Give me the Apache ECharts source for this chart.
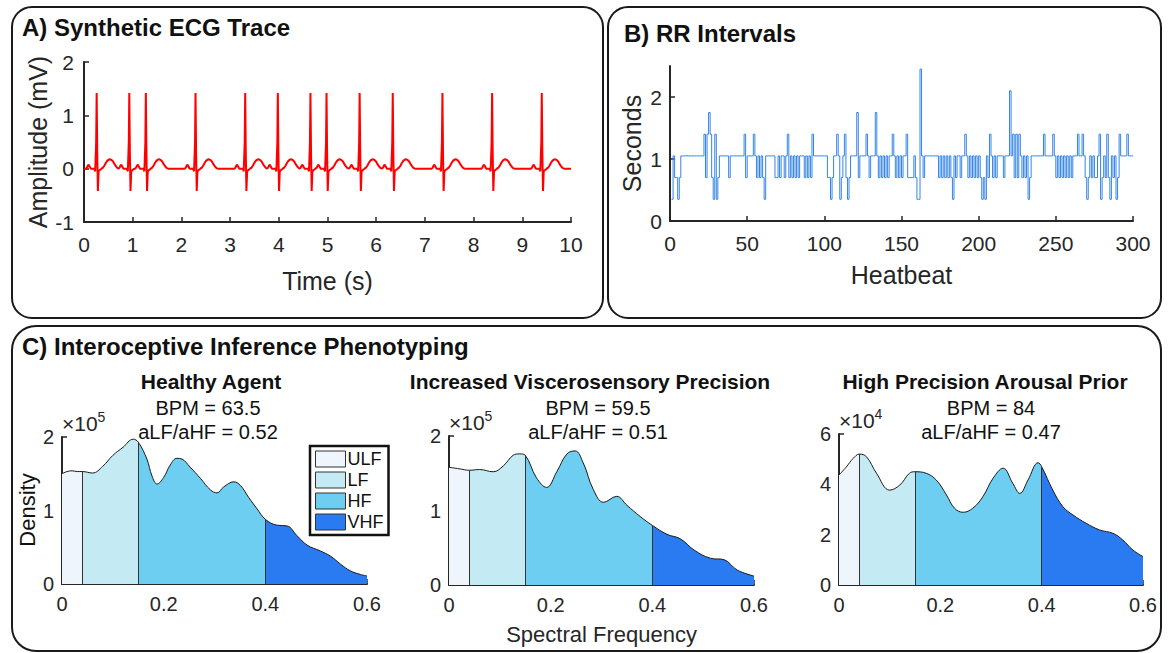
<!DOCTYPE html>
<html>
<head>
<meta charset="utf-8">
<script src="https://cdn.jsdelivr.net/npm/echarts@6/dist/echarts.min.js"></script>
<style>html,body{margin:0;padding:0;background:#fff}#c{width:1170px;height:653px}</style>
</head>
<body>
<div id="c"></div>
<script>
// ---------- Panel A: synthetic ECG ----------
const beatTimes = [0.26, 0.93, 1.27, 2.29, 3.31, 3.98, 4.65, 4.98, 5.66, 6.34, 7.36, 8.38, 9.40];
// one beat template (offset from R peak in s, amplitude in mV)
const beatOffsets = [-0.22, -0.20, -0.18, -0.16, -0.14, -0.12, -0.05, -0.03, -0.01, 0, 0.012, 0.025, 0.04, 0.06, 0.10, 0.13, 0.16, 0.19, 0.22, 0.25, 0.28, 0.31, 0.34, 0.37, 0.40, 0.43, 0.46];
const beatAmps    = [0, 0.02, 0.06, 0.07, 0.03, 0, 0, -0.05, 0.5, 1.42, 0.3, -0.42, -0.05, -0.03, 0, 0.02, 0.06, 0.11, 0.15, 0.17, 0.175, 0.16, 0.13, 0.08, 0.04, 0.01, 0];
const ecgTicksX = [0, 1, 2, 3, 4, 5, 6, 7, 8, 9, 10];
const ecgTicksY = [-1, 0, 1, 2];

// ---------- Panel B: RR intervals (s) ----------
const rrIntervals = [
 0.35,1.05,0.7,0.7,0.35,0.7,1.05,1.05,1.05,1.05,
 1.05,1.05,1.05,1.05,1.05,1.05,1.05,1.05,1.05,1.05,
 1.05,1.4,0.7,1.4,1.75,1.4,0.7,0.35,1.4,0.35,
 0.7,1.05,1.05,1.05,1.05,1.05,1.05,0.7,1.05,1.05,
 1.05,1.05,1.05,1.05,1.05,1.05,1.05,1.4,0.7,1.05,
 1.05,1.05,1.05,1.4,1.05,0.7,1.05,0.7,1.05,0.7,
 0.35,1.05,1.05,1.05,1.05,1.05,1.05,0.7,0.7,1.05,
 0.7,1.05,1.05,0.7,1.05,1.4,0.7,1.05,0.7,1.05,
 0.7,1.05,0.7,1.05,1.05,1.05,0.7,1.05,0.7,1.05,
 0.7,1.4,1.05,1.05,1.05,1.05,1.05,1.05,1.05,1.05,
 1.05,0.7,0.7,0.35,0.7,1.05,1.05,1.4,1.05,0.35,
 0.7,1.05,1.4,0.7,0.35,0.7,1.05,1.05,1.05,1.05,
 1.75,0.7,1.05,1.05,1.05,1.05,1.4,1.05,0.7,1.05,
 1.05,1.05,1.75,1.05,0.7,1.05,0.7,1.05,0.7,1.05,
 0.7,1.05,1.05,1.4,1.05,0.7,1.05,0.7,1.05,0.7,
 1.05,1.05,1.4,0.7,0.7,0.7,0.7,1.05,0.7,0.35,
 0.35,2.45,1.05,0.7,1.05,1.05,1.05,1.05,1.05,1.05,
 1.05,1.05,1.05,0.7,1.05,0.7,1.05,0.7,1.05,0.7,
 1.05,0.7,0.35,1.05,0.7,1.05,1.05,0.7,1.05,1.05,
 1.4,1.05,0.7,1.05,0.7,1.05,0.7,1.05,0.7,1.05,
 0.7,0.35,0.7,0.35,1.05,0.7,1.4,1.05,0.7,1.05,
 0.7,1.05,1.05,1.05,1.05,0.7,1.05,1.05,1.05,2.1,
 1.05,1.4,0.7,1.4,0.7,1.4,1.05,0.7,1.05,0.7,
 1.05,0.35,0.7,1.05,1.05,1.05,1.05,1.05,1.05,1.05,
 1.05,1.4,1.05,1.05,1.05,1.05,1.05,1.4,1.05,0.7,
 1.05,0.7,1.05,0.7,1.05,0.7,1.05,0.7,1.05,0.7,
 1.05,1.05,1.05,1.4,1.05,1.05,1.4,1.05,0.7,0.35,
 0.7,1.05,0.7,1.05,0.7,0.7,1.05,1.4,0.35,0.7,
 1.05,0.7,1.4,0.7,0.35,1.05,0.7,1.05,0.35,0.7,
 1.4,1.05,1.05,1.05,1.05,1.4,1.05,1.05,1.05,1.05
];
const rrTicksX = [0, 50, 100, 150, 200, 250, 300];
const rrTicksY = [0, 1, 2];

// ---------- Panel C: spectral densities ----------
const bandNames  = ['ULF', 'LF', 'HF', 'VHF'];
const bandEdges  = [0, 0.04, 0.15, 0.40, 0.60];
const bandColors = ['#eef5fd', '#c4ebf4', '#6dcef1', '#2a7bf2'];
const freqTicks = [0, 0.2, 0.4, 0.6];

// Healthy Agent (x 10^5)
const healthyFreq = [0,0.01,0.02,0.03,0.04,0.06,0.08,0.10,0.12,0.14,0.15,0.167,0.177,0.187,0.20,0.213,0.226,0.236,0.252,0.272,0.292,0.305,0.318,0.338,0.351,0.367,0.384,0.40,0.423,0.443,0.462,0.482,0.508,0.528,0.548,0.567,0.587,0.60];
const healthyDens = [1.50,1.53,1.54,1.53,1.53,1.51,1.60,1.75,1.86,1.97,1.93,1.70,1.47,1.36,1.45,1.62,1.71,1.70,1.59,1.44,1.28,1.24,1.32,1.39,1.34,1.18,1.02,0.88,0.80,0.79,0.66,0.53,0.45,0.38,0.27,0.18,0.13,0.11];
// Increased Viscerosensory Precision (x 10^5)
const viscFreq = [0,0.02,0.04,0.06,0.087,0.107,0.126,0.139,0.15,0.172,0.192,0.212,0.232,0.248,0.264,0.284,0.304,0.33,0.35,0.376,0.40,0.429,0.455,0.482,0.514,0.541,0.567,0.60];
const viscDens = [1.58,1.56,1.54,1.55,1.52,1.60,1.74,1.76,1.74,1.44,1.31,1.52,1.76,1.80,1.64,1.28,1.11,1.19,1.07,0.92,0.80,0.68,0.62,0.47,0.36,0.34,0.20,0.12];
// High Precision Arousal Prior (x 10^4)
const arousFreq = [0,0.014,0.028,0.04,0.054,0.074,0.10,0.12,0.139,0.15,0.172,0.192,0.212,0.228,0.245,0.264,0.284,0.304,0.324,0.343,0.357,0.373,0.393,0.40,0.422,0.442,0.462,0.488,0.514,0.541,0.56,0.58,0.60];
const arousDens = [4.37,4.68,5.03,5.20,5.10,4.44,3.77,3.97,4.44,4.50,4.44,4.17,3.58,3.05,2.89,3.05,3.51,4.24,4.64,4.04,3.64,4.17,4.86,4.70,3.77,3.11,2.78,2.45,2.19,2.05,1.79,1.39,1.13];

const panelTitles = ['Healthy Agent', 'Increased Viscerosensory Precision', 'High Precision Arousal Prior'];
const panelBPM    = ['63.5', '59.5', '84'];
const panelRatio  = ['0.52', '0.51', '0.47'];
const panelExp    = ['5', '5', '4'];
const densTicks   = [[0, 1, 2], [0, 1, 2], [0, 2, 4, 6]];
const densMax     = [2, 2, 6];

// ---------- build ----------
const FONT = '"Liberation Sans", Arial, Helvetica, sans-serif';
const AX = '#262626';

const ecg = [[0, 0]];
beatTimes.forEach((tb, i) => {
  const next = i + 1 < beatTimes.length ? beatTimes[i + 1] + beatOffsets[0] : 10;
  beatOffsets.forEach((dt, j) => {
    const t = tb + dt;
    if (t > ecg[ecg.length - 1][0] && t < next) ecg.push([+t.toFixed(3), beatAmps[j]]);
  });
});
ecg.push([10, 0]);

const rr = rrIntervals.map((v, i) => [i + 1, v]);

function valAxis(gi, min, max, ticks, fs, margin, extra) {
  const step = ticks[1] - ticks[0];
  return Object.assign({
    type: 'value', gridIndex: gi, min: min, max: max, interval: step,
    axisLine: { show: true, onZero: false, lineStyle: { color: AX, width: 2 } },
    axisTick: { show: true, inside: true, length: 5, lineStyle: { color: AX, width: 1.5 }, customValues: ticks },
    axisLabel: { color: AX, fontSize: fs, fontFamily: FONT, margin: margin, customValues: ticks,
                 formatter: v => String(+v.toFixed(2)) },
    splitLine: { show: false }
  }, extra || {});
}

const grids = [
  { left: 84, top: 62, width: 487, height: 160 },
  { left: 670, top: 66, width: 463, height: 155 },
  { left: 62, top: 437, width: 305, height: 147 },
  { left: 449, top: 436, width: 305, height: 149 },
  { left: 839, top: 434, width: 304, height: 151 }
];

const xAxes = [
  valAxis(0, 0, 10, ecgTicksX, 21, 12, { name: 'Time (s)', nameLocation: 'middle', nameGap: 46,
    nameTextStyle: { fontSize: 25, color: AX, fontFamily: FONT } }),
  valAxis(1, 0, 300, rrTicksX, 21, 12, { name: 'Heatbeat', nameLocation: 'middle', nameGap: 41,
    nameTextStyle: { fontSize: 25, color: AX, fontFamily: FONT } })
];
const yAxes = [
  valAxis(0, -1, 2, ecgTicksY, 21, 10, { name: 'Amplitude (mV)', nameLocation: 'middle', nameGap: 34,
    nameTextStyle: { fontSize: 25, color: AX, fontFamily: FONT } }),
  valAxis(1, 0, 2.5, rrTicksY, 21, 8, { name: 'Seconds', nameLocation: 'middle', nameGap: 26,
    nameTextStyle: { fontSize: 25, color: AX, fontFamily: FONT } })
];
for (let k = 0; k < 3; k++) {
  xAxes.push(valAxis(2 + k, 0, 0.6, freqTicks, 20, 10, k === 1 ? {
    name: 'Spectral Frequency', nameLocation: 'middle', nameGap: 38,
    nameTextStyle: { fontSize: 22, color: AX, fontFamily: FONT } } : {}));
  yAxes.push(valAxis(2 + k, 0, densMax[k], densTicks[k], 20, 8, {
    name: '{a|×10}{b|' + panelExp[k] + '}', nameLocation: 'end', nameGap: 0,
    nameTextStyle: { align: 'left', verticalAlign: 'bottom', color: AX, fontFamily: FONT,
      rich: { a: { fontSize: 21, lineHeight: 27, color: AX, fontFamily: FONT },
              b: { fontSize: 14, lineHeight: 14, verticalAlign: 'top', color: AX, fontFamily: FONT } } }
  }));
}

const series = [
  { type: 'line', xAxisIndex: 0, yAxisIndex: 0, data: ecg, showSymbol: false, silent: true,
    lineStyle: { color: '#ff0000', width: 2 }, animation: false },
  { type: 'line', xAxisIndex: 1, yAxisIndex: 1, data: rr, step: 'end', showSymbol: false, silent: true,
    lineStyle: { color: '#3484e6', width: 1 }, animation: false }
];
const densSets = [[healthyFreq, healthyDens], [viscFreq, viscDens], [arousFreq, arousDens]];
const visualMaps = [];
densSets.forEach((set, k) => {
  const [fq, ds] = set;
  const pts = fq.map((f, i) => [f, ds[i]]);
  visualMaps.push({
    type: 'piecewise', show: false, dimension: 0, seriesIndex: series.length,
    pieces: bandNames.map((n, b) => ({ min: bandEdges[b], max: bandEdges[b + 1], color: bandColors[b] }))
  });
  series.push({ type: 'line', xAxisIndex: 2 + k, yAxisIndex: 2 + k, data: pts, smooth: 0.4,
    showSymbol: false, silent: true, lineStyle: { width: 0 }, areaStyle: { opacity: 1 }, z: 2, animation: false });
  series.push({ type: 'line', xAxisIndex: 2 + k, yAxisIndex: 2 + k, data: pts, smooth: 0.4,
    showSymbol: false, silent: true, lineStyle: { color: '#1a1a1a', width: 1 }, z: 3, animation: false,
    markLine: { silent: true, symbol: ['none', 'none'], animation: false, label: { show: false },
      lineStyle: { color: '#333', width: 1, type: 'solid' },
      data: bandEdges.slice(1, 4).map(e => [{ coord: [e, 0] }, { coord: [e, ds[fq.indexOf(e)]] }]) } });
});
bandNames.forEach((n, b) => {
  series.push({ type: 'scatter', name: n, xAxisIndex: 2, yAxisIndex: 2, data: [],
    itemStyle: { color: bandColors[b], opacity: 1 } });
});

const txt = (x, y, text, size, bold, align, extra) => Object.assign({
  type: 'text', x: x, y: y, silent: true,
  style: { text: text, fill: '#111', fontSize: size, fontWeight: bold ? 'bold' : 'normal', fontFamily: FONT,
           align: align || 'left', verticalAlign: 'middle' }
}, extra || {});

const graphic = [
  { type: 'rect', silent: true, shape: { x: 12, y: 7, width: 591, height: 311, r: 20 },
    style: { fill: 'none', stroke: '#1a1a1a', lineWidth: 2 } },
  { type: 'rect', silent: true, shape: { x: 608, y: 7, width: 553, height: 311, r: 20 },
    style: { fill: 'none', stroke: '#1a1a1a', lineWidth: 2 } },
  { type: 'rect', silent: true, shape: { x: 12, y: 326, width: 1149, height: 325, r: 24 },
    style: { fill: 'none', stroke: '#1a1a1a', lineWidth: 2 } },
  txt(22, 27, 'A) Synthetic ECG Trace', 24, true),
  txt(624, 33, 'B) RR Intervals', 24, true),
  txt(22, 346, 'C) Interoceptive Inference Phenotyping', 24, true),
  txt(27, 510, 'Density', 22, false, 'center', { rotation: Math.PI / 2 })
];
const subCenters = [[211, 208], [590, 598], [985, 991]];
panelTitles.forEach((t, k) => {
  graphic.push(txt(subCenters[k][0], 381, t, 21, true, 'center'));
  graphic.push(txt(subCenters[k][1], 408, 'BPM = ' + panelBPM[k], 20, false, 'center'));
  graphic.push(txt(subCenters[k][1], 432, 'aLF/aHF = ' + panelRatio[k], 20, false, 'center'));
});

const chart = echarts.init(document.getElementById('c'), null, { renderer: 'svg', width: 1170, height: 653 });
chart.setOption({
  animation: false,
  backgroundColor: '#fff',
  textStyle: { fontFamily: FONT },
  grid: grids,
  xAxis: xAxes,
  yAxis: yAxes,
  visualMap: visualMaps,
  legend: {
    data: bandNames, orient: 'vertical', left: 310, top: 446, icon: 'rect',
    itemWidth: 30, itemHeight: 16, itemGap: 3, padding: [4, 5, 4, 5],
    borderColor: '#111', borderWidth: 2.5, backgroundColor: '#fff', selectedMode: false,
    itemStyle: { borderColor: '#333', borderWidth: 1, opacity: 1 },
    textStyle: { fontSize: 18, color: '#111', fontFamily: FONT, padding: [0, 0, 0, -3] }
  },
  series: series,
  graphic: graphic
});
</script>
</body>
</html>
